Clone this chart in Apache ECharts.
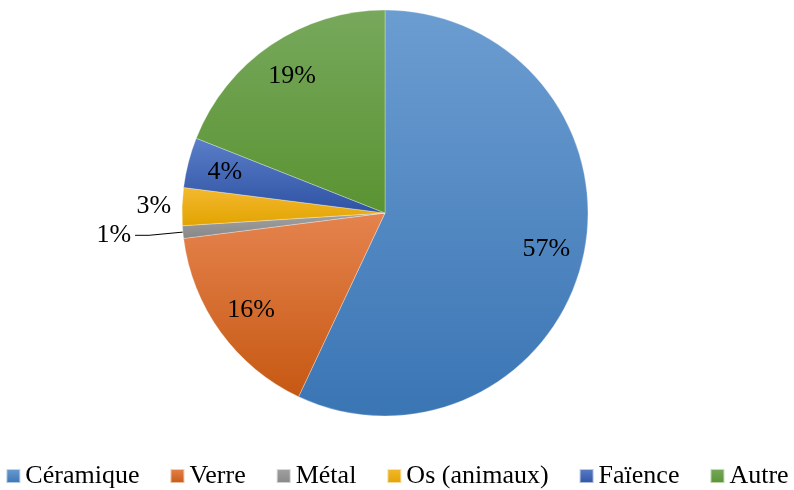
<!DOCTYPE html>
<html>
<head>
<meta charset="utf-8">
<script src="https://cdn.jsdelivr.net/npm/echarts@6/dist/echarts.min.js"></script>
<style>
  html, body { margin: 0; padding: 0; background: #fff; }
  #chart { width: 794px; height: 490px; }
</style>
</head>
<body>
<div id="chart"></div>
<script>
// Répartition du mobilier par matériau (%)
const categories = ['Céramique', 'Verre', 'Métal', 'Os (animaux)', 'Faïence', 'Autre'];
const values = [57, 16, 1, 3, 4, 19];
// Each slice is shaded from a light top colour to a darker bottom colour
const topColors = ['#6C9DD1', '#E5834E', '#A2A2A2', '#F4B830', '#5B7EC8', '#77A85C'];
const bottomColors = ['#3A75B4', '#C65812', '#878787', '#E2A400', '#2E53A3', '#5A9332'];
// Slices whose labels sit outside the pie
const outsideLabels = ['Métal', 'Os (animaux)'];

const FONT = '"Liberation Serif", "Times New Roman", serif';
const FONT_SIZE = 26;
const CENTER = [385, 213];
const R = 203;

function grad(i) {
  return new echarts.graphic.LinearGradient(0, 0, 0, 1, [
    { offset: 0, color: topColors[i] },
    { offset: 1, color: bottomColors[i] }
  ]);
}

const pieData = categories.map((name, i) => {
  const outside = outsideLabels.includes(name);
  const item = {
    name,
    value: values[i],
    itemStyle: { color: grad(i) },
    label: { show: outside, position: 'outside' }
  };
  if (name === 'Métal') {
    item.labelLine = { show: true, length: 34, length2: 14, lineStyle: { color: '#000', width: 1 } };
  } else if (name === 'Os (animaux)') {
    item.labelLine = { show: false, length: 7, length2: 0 };
  }
  return item;
});

// Transparent ring carrying the inner labels closer to the rim
const labelData = categories.map((name, i) => ({
  name,
  value: values[i],
  itemStyle: { color: 'rgba(0,0,0,0)' },
  label: { show: !outsideLabels.includes(name) }
}));

const chart = echarts.init(document.getElementById('chart'), null, { renderer: 'canvas' });
chart.setOption({
  animation: false,
  backgroundColor: '#ffffff',
  color: bottomColors,
  legend: {
    bottom: -4,
    left: 'center',
    itemWidth: 14,
    itemHeight: 14,
    itemGap: 30,
    icon: 'rect',
    data: categories.map((name, i) => ({ name, itemStyle: { color: grad(i) } })),
    textStyle: { fontFamily: FONT, fontSize: FONT_SIZE, color: '#000' }
  },
  series: [
    {
      type: 'pie',
      center: CENTER,
      radius: [0, R],
      startAngle: 90,
      clockwise: true,
      avoidLabelOverlap: false,
      silent: true,
      data: pieData,
      itemStyle: { borderColor: 'rgba(255,255,255,0.6)', borderWidth: 0.5 },
      label: {
        formatter: '{c}%',
        fontFamily: FONT,
        fontSize: FONT_SIZE,
        color: '#000',
        distanceToLabelLine: 4
      },
      labelLine: { lineStyle: { color: '#000', width: 1 } }
    },
    {
      type: 'pie',
      center: CENTER,
      radius: [R * 0.6, R],
      startAngle: 90,
      clockwise: true,
      avoidLabelOverlap: false,
      silent: true,
      data: labelData,
      label: {
        position: 'inside',
        formatter: '{c}%',
        fontFamily: FONT,
        fontSize: FONT_SIZE,
        color: '#000'
      },
      labelLine: { show: false }
    }
  ]
});
</script>
</body>
</html>
